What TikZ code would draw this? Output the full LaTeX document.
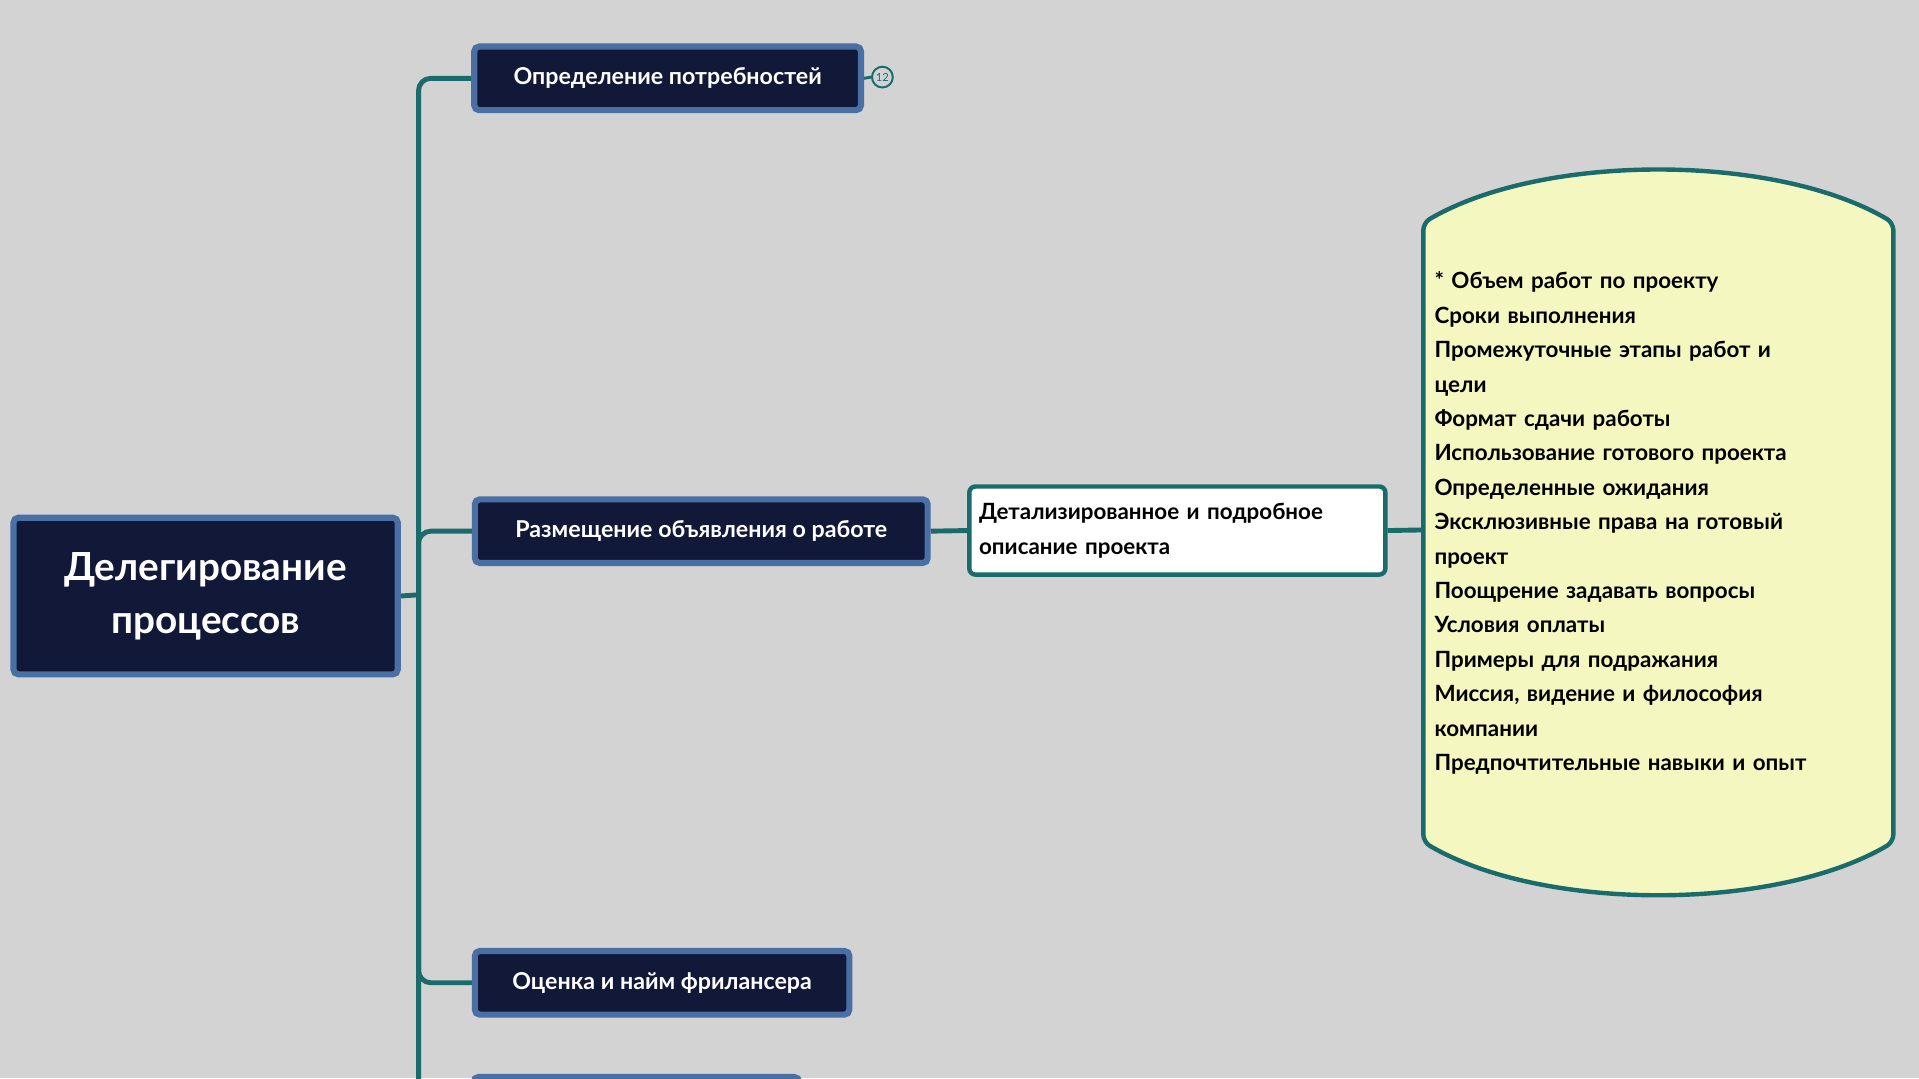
\documentclass[tikz,border=0pt]{standalone}
\usepackage{fontspec}
\setmainfont{Lato}
\definecolor{bgc}{HTML}{D3D3D3}
\definecolor{navy}{HTML}{111838}
\definecolor{edge}{HTML}{4A6FA5}
\definecolor{teal}{HTML}{1A6B6B}
\definecolor{notey}{HTML}{F5F7C0}
\tikzset{
  topic/.style={draw=edge, line width=0.25cm, fill=navy, rounded corners=0.2cm, text=white,
    font=\fontsize{27}{32}\selectfont\bfseries, inner sep=0pt},
  link/.style={draw=teal, line width=0.2cm, rounded corners=0.5cm},
}
\begin{document}
\begin{tikzpicture}[x=0.05cm, y=-0.05cm]
  \useasboundingbox (0,0) rectangle (1568,881);
  \clip (0,0) rectangle (1568,881);
  \fill[bgc] (0,0) rectangle (1568,881);
  % main topic and branches
  \node[topic, minimum width=15.7cm, minimum height=6.4cm, align=center,
    font=\fontsize{45}{62}\selectfont\bfseries] (root) at (168,487) {Делегирование\\процессов};
  \coordinate (j) at (342,486);
  \coordinate (tb) at (342,900);
  \node[topic, minimum width=15.8cm, minimum height=2.6cm] (need) at (545.5,64) {Определение потребностей};
  \node[topic, minimum width=18.5cm, minimum height=2.6cm] (post) at (573,434) {Размещение объявления о работе};
  \node[topic, minimum width=15.3cm, minimum height=2.6cm] (hire) at (541,803) {Оценка и найм фрилансера};
  \node[topic, minimum width=13.3cm, minimum height=2.6cm] (next) at (520,906) {};
  \draw[link] (root.east) -- (j);
  \draw[link] (j) |- (need.west);
  \draw[link] (j) |- (post.west);
  \draw[link] (j) |- (hire.west);
  \draw[link] (j) -- (tb);
  \draw[link] (j) |- (next.west);
  % badge
  \node[circle, draw=teal, line width=0.08cm, minimum size=0.85cm, inner sep=0pt, text=teal,
    font=\fontsize{13}{13}\selectfont] (cnt) at (721,63) {12};
  \draw[teal, line width=0.12cm] (need.east) -- (cnt.west);
  % detail
  \node[draw=teal, line width=0.18cm, fill=white, rounded corners=0.25cm, minimum width=17cm,
    minimum height=3.6cm, text width=16.2cm, align=left, font=\fontsize{26}{40}\selectfont\bfseries]
    (desc) at (962,433.5) {Детализированное и подробное\\описание проекта};
  \draw[link] (post.east) -- (desc.west);
  % note
  \draw[teal, line width=0.18cm, fill=notey, rounded corners=0.3cm]
    (1163,182) .. controls (1260,125) and (1450,125) .. (1547,182) -- (1547,688)
    .. controls (1450,745) and (1260,745) .. (1163,688) -- cycle;
  \coordinate (nt) at (1163,433);
  \draw[link] (desc.east) -- (nt);
  \node[anchor=north west, inner sep=0pt, text width=18cm, align=left,
    font=\fontsize{26}{40}\selectfont\bfseries] (list) at (1172,222) {%
    * Объем работ по проекту\\
    * Сроки выполнения\\
    * Промежуточные этапы работ и\\цели\\
    * Формат сдачи работы\\
    * Использование готового проекта\\
    * Определенные ожидания\\
    * Эксклюзивные права на готовый\\проект\\
    * Поощрение задавать вопросы\\
    * Условия оплаты\\
    * Примеры для подражания\\
    * Миссия, видение и философия\\компании\\
    * Предпочтительные навыки и опыт};
\end{tikzpicture}
\end{document}
